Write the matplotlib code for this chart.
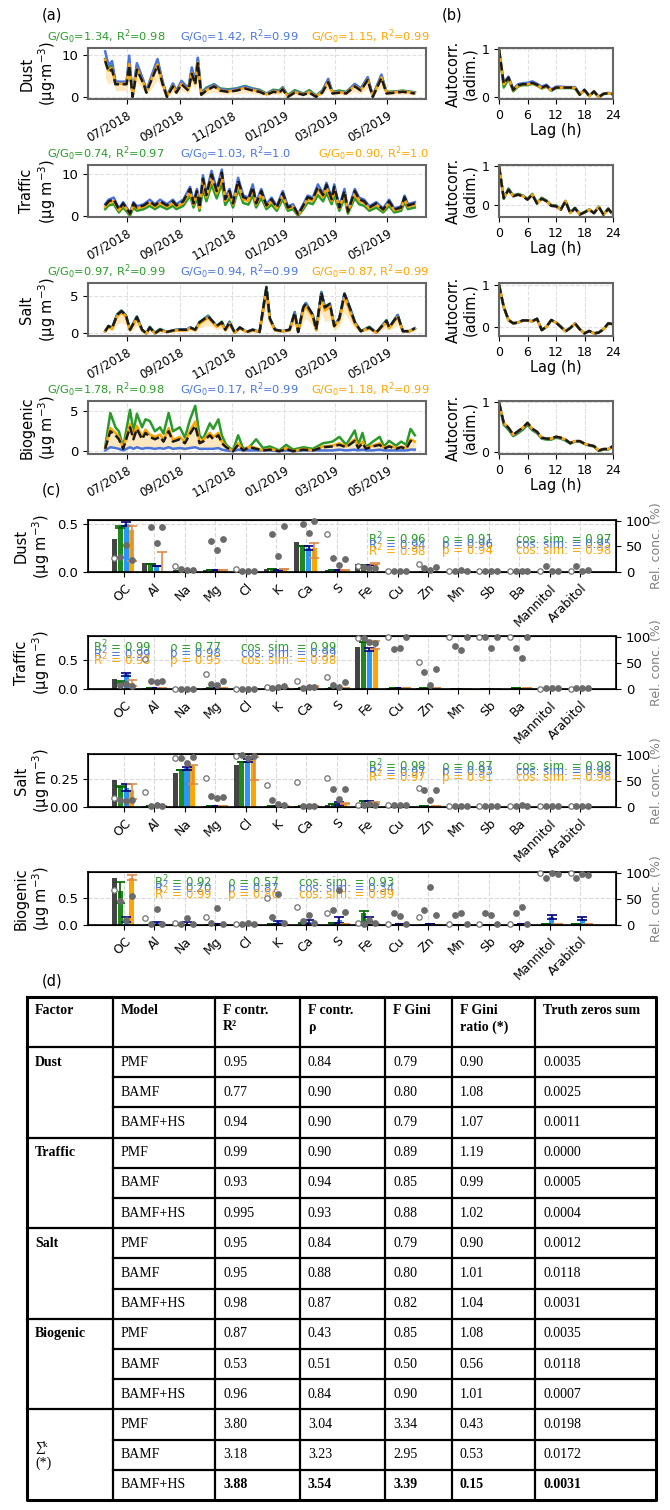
import matplotlib
matplotlib.use('agg')
import matplotlib.pyplot as plt
import matplotlib.dates as mdates
import numpy as np
import pandas as pd

# ---------------- data: (a) time series, days from 2018-06-06 ----------------
dust_days = [0, 4, 8, 12, 17, 25, 28, 32, 37, 45, 48, 54, 61, 67, 72, 79, 83, 89, 97, 101,
             105, 108, 112, 118, 127, 134, 143, 153, 163, 172, 180, 188, 196, 203, 207, 213, 221, 231, 238, 246,
             253, 260, 265, 273, 281, 291, 298, 306, 312, 322, 328, 338, 347, 354, 361]
dust_true = [8.5, 6.0, 6.5, 3.0, 3.0, 3.0, 7.5, 0.0, 6.5, 3.0, 1.0, 4.0, 7.5, 3.0, 0.0, 2.5, 1.0, 3.0, 1.5, 5.5,
             3.0, 8.0, 0.5, 1.5, 2.5, 1.5, 1.2, 1.5, 2.0, 1.5, 1.2, 0.5, 1.2, 1.0, 1.8, 0.0, 1.0, 0.5, 1.0, 0.0,
             1.0, 3.5, 0.8, 1.0, 0.8, 2.5, 1.5, 4.0, 0.0, 4.5, 0.8, 1.0, 1.2, 1.0, 0.8]
dust_pmf = [9.0, 7.0, 7.5, 3.5, 3.5, 3.5, 8.5, 0.5, 7.5, 3.5, 1.5, 4.5, 8.5, 3.5, 0.3, 3.0, 1.5, 3.5, 2.0, 6.5,
            3.5, 9.0, 1.0, 2.2, 3.0, 2.0, 1.8, 2.0, 2.6, 2.0, 1.7, 0.8, 1.7, 1.5, 2.3, 0.4, 1.6, 0.8, 1.6, 0.3,
            1.5, 4.0, 1.2, 1.5, 1.2, 3.0, 2.0, 4.5, 0.3, 5.0, 1.2, 1.3, 1.5, 1.3, 1.1]
dust_bamf = [10.8, 7.5, 8.5, 3.7, 3.6, 3.6, 9.8, 0.3, 8.0, 3.7, 1.4, 5.0, 9.0, 3.6, 0.2, 3.2, 1.4, 3.8, 2.0, 7.0,
             3.8, 9.3, 0.9, 2.0, 3.0, 1.9, 1.6, 1.9, 2.5, 1.9, 1.5, 0.7, 1.5, 1.3, 2.1, 0.2, 1.3, 0.7, 1.3, 0.2,
             1.3, 4.3, 1.0, 1.3, 1.0, 3.1, 1.9, 4.7, 0.2, 5.3, 1.0, 1.2, 1.4, 1.2, 1.0]
dust_hs = [8.8, 6.2, 6.8, 3.1, 3.1, 3.1, 7.8, 0.1, 6.7, 3.1, 1.1, 4.2, 7.7, 3.1, 0.1, 2.6, 1.1, 3.1, 1.6, 5.7,
           3.1, 8.2, 0.6, 1.6, 2.6, 1.6, 1.3, 1.6, 2.1, 1.6, 1.3, 0.6, 1.3, 1.1, 1.9, 0.1, 1.1, 0.6, 1.1, 0.1,
           1.1, 3.6, 0.9, 1.1, 0.9, 2.6, 1.6, 4.1, 0.1, 4.6, 0.9, 1.1, 1.3, 1.1, 0.9]
dust_hs_lo = [4.5, 3.0, 3.5, 1.5, 1.5, 1.5, 4.0, 0.0, 3.5, 1.5, 0.5, 2.0, 4.0, 1.5, 0.0, 1.2, 0.5, 1.5, 0.7, 3.0,
              1.5, 4.5, 0.2, 0.7, 1.2, 0.7, 0.6, 0.7, 1.0, 0.7, 0.6, 0.2, 0.6, 0.5, 0.9, 0.0, 0.5, 0.2, 0.5, 0.0,
              0.5, 1.8, 0.4, 0.5, 0.4, 1.2, 0.7, 2.0, 0.0, 2.3, 0.4, 0.5, 0.6, 0.5, 0.4]

traffic_days = [0, 4, 10, 16, 21, 29, 33, 37, 45, 52, 58, 64, 72, 79, 83, 91, 99, 103, 107, 110,
                114, 118, 124, 130, 136, 140, 145, 149, 155, 161, 167, 172, 176, 182, 188, 194, 200, 207, 213, 219,
                225, 231, 236, 242, 248, 254, 258, 264, 267, 273, 279, 283, 291, 296, 302, 308, 316, 324, 331, 337,
                345, 349, 353, 361]
traffic_true = [2.5, 3.5, 4.0, 1.5, 3.0, 0.5, 3.0, 2.0, 2.5, 3.5, 2.5, 3.5, 2.5, 3.5, 2.5, 3.5, 6.5, 3.0, 6.0, 2.0,
                9.0, 5.0, 10.0, 6.0, 10.5, 4.0, 6.0, 3.0, 8.5, 4.5, 4.0, 7.0, 3.0, 6.0, 2.5, 4.0, 2.0, 5.5, 2.0, 2.5,
                0.3, 2.5, 4.5, 4.0, 7.0, 5.0, 7.5, 4.0, 7.0, 2.0, 6.0, 1.0, 6.0, 4.0, 3.5, 2.0, 3.0, 1.5, 3.5, 1.5,
                2.0, 4.5, 2.5, 3.0]
traffic_pmf = [1.6, 2.5, 2.8, 0.8, 2.0, 0.0, 2.0, 1.2, 1.6, 2.4, 1.6, 2.4, 1.6, 2.4, 1.6, 2.4, 4.8, 2.0, 4.3, 1.2,
               6.5, 3.5, 7.5, 4.2, 7.8, 2.6, 4.3, 2.0, 6.3, 3.1, 2.7, 5.0, 2.0, 4.3, 1.6, 2.7, 1.2, 4.0, 1.2, 1.6,
               0.0, 1.6, 3.2, 2.8, 5.0, 3.5, 5.5, 2.8, 5.0, 1.2, 4.3, 0.5, 4.3, 2.8, 2.4, 1.2, 2.0, 0.8, 2.4, 0.8,
               1.2, 3.2, 1.6, 2.0]
traffic_bamf = [2.8, 3.9, 4.4, 1.8, 3.3, 0.7, 3.3, 2.3, 2.8, 3.9, 2.8, 3.9, 2.8, 3.9, 2.8, 3.9, 7.0, 3.3, 6.5, 2.3,
                9.8, 5.4, 10.9, 6.5, 11.2, 4.4, 6.5, 3.3, 9.2, 4.9, 4.4, 7.6, 3.3, 6.5, 2.8, 4.4, 2.3, 6.0, 2.3, 2.8,
                0.5, 2.8, 4.9, 4.4, 7.6, 5.4, 8.0, 4.4, 7.6, 2.3, 6.5, 1.2, 6.5, 4.4, 3.9, 2.3, 3.3, 1.8, 3.9, 1.8,
                2.3, 4.9, 2.8, 3.3]
traffic_hs = [2.2, 3.1, 3.6, 1.3, 2.7, 0.4, 2.7, 1.8, 2.2, 3.1, 2.2, 3.1, 2.2, 3.1, 2.2, 3.1, 5.8, 2.7, 5.4, 1.8,
              8.1, 4.5, 9.0, 5.4, 9.4, 3.6, 5.4, 2.7, 7.6, 4.0, 3.6, 6.3, 2.7, 5.4, 2.2, 3.6, 1.8, 4.9, 1.8, 2.2,
              0.2, 2.2, 4.0, 3.6, 6.3, 4.5, 6.7, 3.6, 6.3, 1.8, 5.4, 0.9, 5.4, 3.6, 3.1, 1.8, 2.7, 1.3, 3.1, 1.3,
              1.8, 4.0, 2.2, 2.7]
traffic_hs_lo = [1.9, 2.6, 3.1, 1.1, 2.3, 0.3, 2.3, 1.5, 1.9, 2.6, 1.9, 2.6, 1.9, 2.6, 1.9, 2.6, 4.9, 2.3, 4.6, 1.5,
                 6.9, 3.8, 7.7, 4.6, 8.0, 3.1, 4.6, 2.3, 6.5, 3.4, 3.1, 5.4, 2.3, 4.6, 1.9, 3.1, 1.5, 4.2, 1.5, 1.9,
                 0.2, 1.9, 3.4, 3.1, 5.4, 3.8, 5.7, 3.1, 5.4, 1.5, 4.6, 0.8, 4.6, 3.1, 2.6, 1.5, 2.3, 1.1, 2.6, 1.1,
                 1.5, 3.4, 1.9, 2.3]

salt_days = [0, 4, 8, 14, 19, 24, 29, 37, 43, 48, 52, 58, 64, 72, 83, 95, 99, 105, 110, 120,
             130, 136, 140, 145, 151, 157, 165, 172, 180, 188, 192, 198, 207, 215, 221, 225, 231, 234, 242, 246,
             252, 256, 262, 267, 273, 279, 285, 291, 298, 308, 316, 328, 331, 341, 347, 355, 361]
salt_true = [0.3, 1.0, 0.7, 2.5, 3.0, 2.5, 0.5, 2.2, 0.5, 0.0, 0.8, 0.0, 0.5, 0.2, 0.5, 0.5, 0.8, 0.5, 1.5, 2.3,
             1.0, 1.5, 0.5, 1.5, 0.1, 0.8, 0.2, 0.5, 0.2, 6.2, 2.0, 0.5, 0.3, 0.5, 2.8, 0.2, 3.5, 4.0, 2.5, 0.5,
             5.5, 3.5, 4.0, 1.0, 2.0, 5.3, 3.5, 1.5, 0.3, 0.8, 0.1, 1.7, 0.8, 2.4, 0.3, 0.3, 0.7]
salt_pmf = [0.3, 1.0, 0.7, 2.6, 3.1, 2.5, 0.5, 2.3, 0.5, 0.0, 0.9, 0.1, 0.6, 0.2, 0.5, 0.5, 0.8, 0.5, 1.5, 2.4,
            1.0, 1.6, 0.5, 1.6, 0.1, 0.8, 0.2, 0.5, 0.2, 6.3, 2.0, 0.5, 0.3, 0.5, 2.9, 0.2, 3.6, 4.1, 2.5, 0.5,
            5.6, 3.6, 4.0, 1.0, 2.0, 5.4, 3.6, 1.6, 0.3, 0.9, 0.1, 1.8, 0.8, 2.5, 0.3, 0.3, 0.7]
salt_bamf = [0.3, 1.0, 0.7, 2.5, 3.0, 2.4, 0.5, 2.2, 0.5, 0.0, 0.8, 0.0, 0.5, 0.2, 0.5, 0.5, 0.8, 0.5, 1.5, 2.3,
             1.0, 1.5, 0.5, 1.5, 0.1, 0.8, 0.2, 0.5, 0.2, 6.1, 2.0, 0.5, 0.3, 0.5, 2.8, 0.2, 3.5, 4.1, 2.5, 0.5,
             5.5, 3.6, 3.9, 1.0, 2.1, 5.4, 3.5, 1.5, 0.3, 0.8, 0.1, 1.7, 0.8, 2.5, 0.3, 0.3, 0.7]
salt_hs = [0.3, 0.9, 0.6, 2.3, 2.8, 2.3, 0.4, 2.0, 0.4, 0.0, 0.7, 0.0, 0.4, 0.2, 0.4, 0.4, 0.7, 0.4, 1.3, 2.1,
           0.9, 1.3, 0.4, 1.3, 0.1, 0.7, 0.2, 0.4, 0.2, 5.8, 1.8, 0.4, 0.3, 0.4, 2.5, 0.2, 3.1, 3.6, 2.2, 0.4,
           5.0, 3.1, 3.6, 0.9, 1.8, 5.0, 3.1, 1.3, 0.3, 0.7, 0.1, 1.5, 0.7, 2.2, 0.3, 0.3, 0.6]
salt_hs_lo = [0.1, 0.5, 0.3, 1.2, 1.5, 1.2, 0.2, 1.0, 0.2, 0.0, 0.4, 0.0, 0.2, 0.1, 0.2, 0.2, 0.4, 0.2, 0.7, 1.1,
              0.5, 0.7, 0.2, 0.7, 0.0, 0.4, 0.1, 0.2, 0.1, 3.5, 0.9, 0.2, 0.1, 0.2, 1.3, 0.1, 1.6, 2.0, 1.1, 0.2,
              2.8, 1.6, 1.8, 0.4, 0.9, 2.8, 1.6, 0.7, 0.1, 0.4, 0.0, 0.8, 0.4, 1.1, 0.1, 0.1, 0.3]

bio_days = [0, 6, 12, 16, 21, 29, 33, 37, 43, 47, 52, 58, 64, 68, 74, 79, 87, 93, 99, 105,
            110, 114, 122, 126, 132, 136, 141, 149, 155, 161, 168, 176, 184, 192, 203, 211, 219, 231, 242, 254,
            265, 273, 281, 291, 295, 300, 304, 312, 320, 325, 331, 339, 345, 351, 356, 361]
bio_true = [0.3, 2.5, 2.0, 1.5, 0.3, 3.0, 1.5, 2.8, 1.5, 2.3, 1.8, 1.5, 1.8, 1.2, 2.5, 1.2, 1.5, 1.0, 2.2, 3.2,
            1.0, 1.2, 2.0, 1.5, 2.0, 1.0, 0.5, 0.0, 0.8, 0.1, 0.5, 0.3, 0.1, 0.2, 0.0, 0.3, 0.0, 0.2, 0.1, 0.5,
            0.6, 0.8, 0.5, 1.3, 0.4, 1.0, 0.3, 0.6, 0.8, 0.3, 0.6, 0.3, 0.5, 0.3, 1.3, 1.0]
bio_pmf = [0.5, 4.8, 3.0, 2.5, 0.5, 5.2, 2.5, 4.7, 3.0, 4.0, 3.8, 2.5, 3.0, 2.2, 4.8, 2.5, 3.0, 1.7, 4.0, 5.7,
           2.0, 1.5, 3.5, 2.8, 4.0, 2.0, 0.8, 0.1, 2.0, 0.3, 0.5, 1.5, 0.4, 0.6, 0.1, 0.8, 0.2, 0.5, 0.3, 1.0,
           1.2, 1.8, 0.8, 2.6, 0.8, 2.3, 0.5, 1.2, 1.8, 0.6, 1.3, 0.7, 1.2, 0.8, 2.8, 2.0]
bio_bamf = [0.1, 0.5, 0.4, 0.3, 0.1, 0.5, 0.3, 0.5, 0.3, 0.4, 0.4, 0.3, 0.4, 0.3, 0.5, 0.3, 0.4, 0.3, 0.4, 0.5,
            0.3, 0.3, 0.3, 0.3, 0.4, 0.2, 0.1, 0.0, 0.2, 0.1, 0.1, 0.1, 0.1, 0.1, 0.0, 0.1, 0.0, 0.1, 0.1, 0.1,
            0.1, 0.2, 0.1, 0.2, 0.1, 0.2, 0.1, 0.1, 0.2, 0.1, 0.1, 0.1, 0.1, 0.1, 0.2, 0.2]
bio_hs = [0.4, 2.9, 2.3, 1.8, 0.4, 3.4, 1.8, 3.2, 1.8, 2.7, 2.1, 1.8, 2.1, 1.4, 2.9, 1.4, 1.8, 1.2, 2.6, 3.7,
          1.2, 1.4, 2.3, 1.8, 2.3, 1.2, 0.6, 0.0, 1.0, 0.1, 0.6, 0.4, 0.1, 0.3, 0.0, 0.4, 0.0, 0.3, 0.1, 0.6,
          0.7, 1.0, 0.6, 1.5, 0.5, 1.2, 0.4, 0.7, 1.0, 0.4, 0.7, 0.4, 0.6, 0.4, 1.5, 1.2]
bio_hs_lo = [0.0, 0.4, 0.3, 0.2, 0.0, 0.5, 0.2, 0.4, 0.2, 0.3, 0.3, 0.2, 0.3, 0.2, 0.4, 0.2, 0.2, 0.1, 0.3, 0.5,
             0.1, 0.2, 0.3, 0.2, 0.3, 0.1, 0.1, 0.0, 0.1, 0.0, 0.1, 0.0, 0.0, 0.0, 0.0, 0.0, 0.0, 0.0, 0.0, 0.1,
             0.1, 0.1, 0.1, 0.2, 0.1, 0.1, 0.0, 0.1, 0.1, 0.0, 0.1, 0.0, 0.1, 0.0, 0.2, 0.1]

gg0_pmf = ['1.34', '0.74', '0.97', '1.78']
gg0_bamf = ['1.42', '1.03', '0.94', '0.17']
gg0_hs = ['1.15', '0.90', '0.87', '1.18']
r2_pmf = ['0.98', '0.97', '0.99', '0.98']
r2_bamf = ['0.99', '1.0', '0.99', '0.99']
r2_hs = ['0.99', '1.0', '0.99', '0.99']

# ---------------- data: (b) autocorrelation, lag 0..24 h ----------------
lags = list(range(25))
dust_acf_true = [1.0, 0.28, 0.41, 0.15, 0.25, 0.27, 0.27, 0.30, 0.26, 0.20, 0.24, 0.14, 0.20, 0.20, 0.20, 0.20,
                 0.20, 0.05, 0.15, 0.02, 0.12, 0.00, 0.07, 0.08, 0.06]
dust_acf_pmf = [1.0, 0.20, 0.38, 0.12, 0.22, 0.25, 0.25, 0.28, 0.24, 0.18, 0.22, 0.13, 0.19, 0.19, 0.19, 0.19,
                0.18, 0.05, 0.14, 0.02, 0.11, 0.00, 0.06, 0.08, 0.06]
dust_acf_bamf = [1.0, 0.30, 0.43, 0.17, 0.27, 0.29, 0.30, 0.33, 0.28, 0.22, 0.26, 0.16, 0.22, 0.22, 0.21, 0.21,
                 0.21, 0.06, 0.16, 0.03, 0.12, 0.01, 0.07, 0.09, 0.07]
dust_acf_hs = [1.0, 0.27, 0.40, 0.14, 0.24, 0.26, 0.27, 0.29, 0.25, 0.19, 0.23, 0.14, 0.20, 0.20, 0.20, 0.20,
               0.19, 0.05, 0.15, 0.02, 0.12, 0.00, 0.07, 0.08, 0.06]
traffic_acf_true = [1.0, 0.17, 0.39, 0.22, 0.26, 0.22, 0.13, 0.26, 0.03, 0.16, 0.09, -0.03, -0.04, -0.13, 0.09,
                    -0.22, -0.09, -0.26, -0.20, -0.13, -0.22, -0.06, -0.26, -0.11, -0.26]
traffic_acf_pmf = [1.0, 0.15, 0.42, 0.24, 0.28, 0.24, 0.15, 0.28, 0.05, 0.18, 0.11, -0.01, -0.02, -0.12, 0.10,
                   -0.20, -0.08, -0.24, -0.19, -0.12, -0.21, -0.05, -0.25, -0.10, -0.25]
traffic_acf_bamf = [1.0, 0.17, 0.40, 0.22, 0.26, 0.23, 0.14, 0.26, 0.04, 0.16, 0.09, -0.03, -0.04, -0.13, 0.09,
                    -0.21, -0.09, -0.25, -0.20, -0.13, -0.22, -0.06, -0.26, -0.11, -0.25]
traffic_acf_hs = [1.0, 0.17, 0.39, 0.22, 0.26, 0.22, 0.13, 0.26, 0.03, 0.16, 0.09, -0.03, -0.04, -0.13, 0.09,
                  -0.22, -0.09, -0.26, -0.20, -0.13, -0.22, -0.06, -0.26, -0.11, -0.26]
salt_acf_true = [1.0, 0.47, 0.16, 0.08, 0.10, 0.15, 0.15, 0.13, 0.19, -0.08, 0.00, 0.16, 0.10, 0.00, -0.11,
                 -0.03, 0.08, -0.06, -0.16, -0.10, -0.16, -0.14, -0.06, 0.08, 0.06]
salt_acf_pmf = [1.0, 0.46, 0.16, 0.09, 0.10, 0.15, 0.15, 0.13, 0.19, -0.07, 0.00, 0.16, 0.10, 0.00, -0.10,
                -0.03, 0.08, -0.06, -0.15, -0.10, -0.15, -0.13, -0.06, 0.08, 0.06]
salt_acf_bamf = [1.0, 0.47, 0.16, 0.08, 0.10, 0.15, 0.15, 0.13, 0.19, -0.08, 0.00, 0.16, 0.10, 0.00, -0.11,
                 -0.03, 0.08, -0.06, -0.16, -0.10, -0.16, -0.14, -0.06, 0.08, 0.06]
salt_acf_hs = [1.0, 0.47, 0.15, 0.08, 0.10, 0.14, 0.15, 0.13, 0.18, -0.08, 0.00, 0.15, 0.10, 0.00, -0.11,
               -0.03, 0.07, -0.06, -0.16, -0.10, -0.16, -0.14, -0.06, 0.07, 0.06]
bio_acf_true = [1.0, 0.59, 0.49, 0.35, 0.42, 0.49, 0.59, 0.47, 0.41, 0.29, 0.27, 0.27, 0.31, 0.29, 0.25, 0.18,
                0.22, 0.22, 0.17, 0.14, 0.12, 0.03, 0.06, 0.06, 0.12]
bio_acf_pmf = [1.0, 0.55, 0.45, 0.32, 0.38, 0.45, 0.55, 0.44, 0.38, 0.27, 0.25, 0.25, 0.29, 0.27, 0.23, 0.17,
               0.21, 0.21, 0.16, 0.13, 0.11, 0.02, 0.05, 0.05, 0.11]
bio_acf_bamf = [1.0, 0.58, 0.48, 0.34, 0.41, 0.48, 0.58, 0.46, 0.40, 0.28, 0.27, 0.27, 0.30, 0.28, 0.24, 0.18,
                0.22, 0.22, 0.17, 0.14, 0.12, 0.03, 0.06, 0.06, 0.12]
bio_acf_hs = [1.0, 0.59, 0.49, 0.35, 0.42, 0.49, 0.59, 0.47, 0.41, 0.29, 0.27, 0.27, 0.31, 0.29, 0.25, 0.18,
              0.22, 0.22, 0.17, 0.14, 0.12, 0.03, 0.06, 0.06, 0.12]

# ---------------- data: (c) factor profiles ----------------
species = ['OC', 'Al', 'Na', 'Mg', 'Cl', 'K', 'Ca', 'S', 'Fe', 'Cu', 'Zn', 'Mn', 'Sb', 'Ba', 'Mannitol', 'Arabitol']
nan = np.nan

dust_prof_true = [0.35, 0.09, 0.02, 0.02, 0.0, 0.035, 0.32, 0.02, 0.08, 0.0, 0.0, 0.0, 0.0, 0.0, 0.0, 0.0]
dust_prof_pmf = [0.47, 0.08, 0.01, 0.02, 0.0, 0.035, 0.27, 0.02, 0.07, 0.0, 0.0, 0.0, 0.0, 0.0, 0.0, 0.0]
dust_prof_bamf = [0.50, 0.065, 0.005, 0.02, 0.0, 0.025, 0.25, 0.02, 0.075, 0.0, 0.0, 0.0, 0.0, 0.0, 0.0, 0.0]
dust_prof_hs = [0.44, 0.01, 0.005, 0.02, 0.0, 0.035, 0.25, 0.02, 0.08, 0.0, 0.0, 0.0, 0.0, 0.0, 0.0, 0.005]
dust_err_pmf = [[0.01, 0, 0, 0, 0, 0, 0, 0, 0, 0, 0, 0, 0, 0, 0, 0], [0.01, 0, 0, 0, 0, 0, 0, 0, 0, 0, 0, 0, 0, 0, 0, 0]]
dust_err_bamf = [[0.02, 0, 0, 0, 0, 0, 0.02, 0, 0, 0, 0, 0, 0, 0, 0, 0], [0.02, 0, 0, 0, 0, 0, 0.02, 0, 0, 0, 0, 0, 0, 0, 0, 0]]
dust_err_hs = [[0.32, 0.01, 0, 0, 0, 0, 0.105, 0, 0, 0, 0, 0, 0, 0, 0, 0], [0.04, 0.20, 0, 0, 0, 0, 0.05, 0, 0.01, 0, 0, 0, 0, 0, 0, 0]]
dust_rel_true = [28, nan, 11, nan, 6, nan, nan, 73, 11, 1, 15, 1, 1, 1, 1, 1]
dust_rel_pmf = [30, 87, 6, 61, 1, 73, 94, 28, 10, 1, 8, 1, 1, 1, 11, 11]
dust_rel_bamf = [53, 56, 4, 42, 1, 31, 75, 13, 8, 1, 3, 3, 1, 1, 1, 1]
dust_rel_hs = [24, 87, 3, 65, 1, 90, 100, 26, 8, 1, 10, 1, 1, 1, 1, 3]

traffic_prof_true = [0.18, 0.02, 0.0, 0.01, 0.0, 0.01, 0.02, 0.01, 0.72, 0.02, 0.01, 0.0, 0.0, 0.0, 0.0, 0.0]
traffic_prof_pmf = [0.12, 0.02, 0.0, 0.01, 0.0, 0.01, 0.02, 0.01, 0.80, 0.02, 0.01, 0.0, 0.0, 0.01, 0.0, 0.0]
traffic_prof_bamf = [0.25, 0.01, 0.0, 0.01, 0.0, 0.01, 0.02, 0.01, 0.65, 0.02, 0.0, 0.0, 0.0, 0.0, 0.0, 0.0]
traffic_prof_hs = [0.10, 0.01, 0.0, 0.01, 0.0, 0.01, 0.03, 0.01, 0.70, 0.02, 0.01, 0.0, 0.0, 0.01, 0.0, 0.0]
traffic_err_pmf = [[0.01, 0, 0, 0, 0, 0, 0, 0, 0, 0, 0, 0, 0, 0, 0, 0], [0.01, 0, 0, 0, 0, 0, 0, 0, 0, 0, 0, 0, 0, 0, 0, 0]]
traffic_err_bamf = [[0.03, 0, 0, 0, 0, 0, 0, 0, 0, 0, 0, 0, 0, 0, 0, 0], [0.03, 0, 0, 0, 0, 0, 0, 0, 0.05, 0, 0, 0, 0, 0, 0, 0]]
traffic_err_hs = [[0.05, 0, 0, 0, 0, 0, 0, 0, 0.02, 0, 0, 0, 0, 0, 0, 0], [0.05, 0, 0, 0, 0, 0, 0.02, 0, 0.12, 0, 0, 0, 0, 0, 0, 0]]
traffic_rel_true = [nan, 58, 0, 28, 0, 4, 15, 22, 98, 100, 51, 100, 100, 100, 0, 0]
traffic_rel_pmf = [8, 16, 0, 10, 0, 2, 2, 8, 97, 76, 32, 82, 100, 79, 1, 1]
traffic_rel_bamf = [10, 13, 0, 8, 0, 4, 4, 4, 90, 78, 8, 74, 79, 60, 1, 1]
traffic_rel_hs = [5, 16, 0, 15, 0, 6, 4, 13, 88, 100, 38, 100, 100, 100, 1, 1]

salt_prof_true = [0.24, 0.005, 0.30, 0.005, 0.37, 0.005, 0.01, 0.02, 0.01, 0.0, 0.0, 0.0, 0.0, 0.0, 0.0, 0.0]
salt_prof_pmf = [0.18, 0.005, 0.33, 0.005, 0.40, 0.005, 0.005, 0.03, 0.05, 0.0, 0.005, 0.0, 0.0, 0.0, 0.0, 0.0]
salt_prof_bamf = [0.17, 0.005, 0.34, 0.005, 0.41, 0.005, 0.005, 0.03, 0.04, 0.0, 0.0, 0.0, 0.0, 0.0, 0.0, 0.0]
salt_prof_hs = [0.15, 0.005, 0.36, 0.005, 0.42, 0.005, 0.005, 0.03, 0.03, 0.0, 0.005, 0.0, 0.0, 0.0, 0.0, 0.0]
salt_err_pmf = [[0.005, 0, 0, 0, 0, 0, 0, 0, 0, 0, 0, 0, 0, 0, 0, 0], [0.005, 0, 0, 0, 0, 0, 0, 0, 0, 0, 0, 0, 0, 0, 0, 0]]
salt_err_bamf = [[0.03, 0, 0.01, 0, 0.01, 0, 0, 0.01, 0.01, 0, 0, 0, 0, 0, 0, 0], [0.03, 0, 0.01, 0, 0.01, 0, 0, 0.01, 0.01, 0, 0, 0, 0, 0, 0, 0]]
salt_err_hs = [[0.08, 0, 0.155, 0, 0.18, 0, 0, 0, 0, 0, 0, 0, 0, 0, 0, 0], [0.05, 0, 0.01, 0, 0.02, 0, 0, 0.005, 0.01, 0, 0, 0, 0, 0, 0, 0]]
salt_rel_true = [17, 28, 94, 55, 97, 41, 48, 55, 3, 3, 36, 1, 1, 1, 1, 1]
salt_rel_pmf = [14, 2, 94, 21, 99, 13, 1, 34, 4, 3, 33, 1, 1, 2, 1, 1]
salt_rel_bamf = [12, 3, 84, 17, 94, 6, 1, 16, 6, 4, 14, 1, 1, 4, 1, 1]
salt_rel_hs = [14, 2, 96, 19, 97, 3, 1, 34, 3, 3, 33, 1, 1, 1, 1, 1]

bio_prof_true = [0.86, 0.0, 0.0, 0.0, 0.0, 0.0, 0.0, 0.0, 0.0, 0.0, 0.0, 0.0, 0.0, 0.0, 0.0, 0.0]
bio_prof_pmf = [0.62, 0.0, 0.0, 0.0, 0.0, 0.01, 0.04, 0.03, 0.22, 0.0, 0.0, 0.0, 0.0, 0.0, 0.01, 0.01]
bio_prof_bamf = [0.10, 0.03, 0.02, 0.01, 0.02, 0.05, 0.06, 0.09, 0.10, 0.01, 0.02, 0.0, 0.0, 0.01, 0.15, 0.12]
bio_prof_hs = [0.86, 0.0, 0.0, 0.0, 0.0, 0.0, 0.0, 0.02, 0.02, 0.0, 0.0, 0.0, 0.0, 0.0, 0.01, 0.01]
bio_err_pmf = [[0.22, 0, 0, 0, 0, 0, 0, 0, 0.22, 0, 0, 0, 0, 0, 0, 0], [0.17, 0, 0, 0, 0, 0, 0, 0, 0.03, 0, 0, 0, 0, 0, 0, 0]]
bio_err_bamf = [[0.04, 0.03, 0.03, 0, 0, 0.03, 0.04, 0.05, 0.05, 0, 0, 0, 0, 0, 0.04, 0.03], [0.04, 0.03, 0.03, 0, 0, 0.03, 0.04, 0.05, 0.05, 0, 0, 0, 0, 0, 0.04, 0.03]]
bio_err_hs = [[0.02, 0, 0, 0, 0, 0, 0, 0, 0, 0, 0, 0, 0, 0, 0, 0], [0.07, 0, 0, 0, 0, 0, 0, 0, 0, 0, 0, 0, 0, 0, 0, 0]]
bio_rel_true = [67, 13, 4, 15, 1, 52, 35, 22, 3, 1, 15, 1, 1, 1, 99, 99]
bio_rel_pmf = [45, 1, 1, 4, 1, 16, 8, 29, 2, 23, 28, 20, 23, 22, 90, 89]
bio_rel_bamf = [10, 31, 13, 32, 4, 60, 20, 67, 10, 18, 72, 23, 20, 35, 99, 98]
bio_rel_hs = [56, 1, 1, 1, 1, 3, 3, 25, 3, 1, 20, 1, 1, 1, 97, 96]

stat_r2 = [['0.96', '0.94', '0.98'], ['0.99', '0.99', '0.98'], ['0.98', '0.97', '0.97'], ['0.92', '0.20', '0.99']]
stat_rho = [['0.91', '0.96', '0.94'], ['0.77', '0.98', '0.95'], ['0.87', '0.93', '0.91'], ['0.57', '0.87', '0.86']]
stat_cos = [['0.97', '0.95', '0.98'], ['0.99', '0.99', '0.98'], ['0.98', '0.98', '0.98'], ['0.93', '0.34', '0.99']]

# ---------------- data: (d) table ----------------
tab_factors = ['Dust', 'Traffic', 'Salt', 'Biogenic']
tab_models = ['PMF', 'BAMF', 'BAMF+HS']
tab_r2 = ['0.95', '0.77', '0.94', '0.99', '0.93', '0.995', '0.95', '0.95', '0.98', '0.87', '0.53', '0.96', '3.80', '3.18', '3.88']
tab_rho = ['0.84', '0.90', '0.90', '0.90', '0.94', '0.93', '0.84', '0.88', '0.87', '0.43', '0.51', '0.84', '3.04', '3.23', '3.54']
tab_gini = ['0.79', '0.80', '0.79', '0.89', '0.85', '0.88', '0.79', '0.80', '0.82', '0.85', '0.50', '0.90', '3.34', '2.95', '3.39']
tab_ratio = ['0.90', '1.08', '1.07', '1.19', '0.99', '1.02', '0.90', '1.01', '1.04', '1.08', '0.56', '1.01', '0.43', '0.53', '0.15']
tab_zeros = ['0.0035', '0.0025', '0.0011', '0.0000', '0.0005', '0.0004', '0.0012', '0.0118', '0.0031', '0.0035', '0.0118',
             '0.0007', '0.0198', '0.0172', '0.0031']

C_G = '#2a9a2a'
C_B = '#4a74dc'
C_O = '#ffa500'

W, H = 670, 1510
fig = plt.figure(figsize=(W / 100, H / 100), dpi=100)


def px_axes(x0, y0, x1, y1):
    return fig.add_axes([x0 / W, 1 - y1 / H, (x1 - x0) / W, (y1 - y0) / H])


def frame(ax, color='0.4', lw=1.5):
    for s in ax.spines.values():
        s.set_color(color)
        s.set_linewidth(lw)


start = pd.Timestamp('2018-06-06')


def ts_panel(ax, days, true, g, b, o, lo, ylim, yticks, ylabel, k):
    t = start + pd.to_timedelta(days, unit='D')
    ax.fill_between(t, lo, o, color=C_O, alpha=0.25, lw=0)
    ax.plot(t, g, color=C_G, lw=1.8)
    ax.plot(t, b, color=C_B, lw=1.8)
    ax.plot(t, o, color=C_O, lw=1.8)
    ax.plot(t, true, color='#1a1a1a', lw=1.8, ls=(0, (3.5, 1.5)))
    ax.set_xlim(pd.Timestamp('2018-05-17'), pd.Timestamp('2019-06-15'))
    ax.set_ylim(*ylim)
    ax.set_yticks(yticks)
    ax.xaxis.set_major_locator(mdates.MonthLocator(bymonth=[1, 3, 5, 7, 9, 11]))
    ax.xaxis.set_major_formatter(mdates.DateFormatter('%m/%Y'))
    plt.setp(ax.get_xticklabels(), rotation=30, ha='right', rotation_mode='anchor', fontsize=8.5)
    ax.tick_params(axis='y', labelsize=9.5)
    ax.grid(ls='--', color='0.88', lw=0.8)
    frame(ax)
    ax.set_ylabel(ylabel, fontsize=10.5, linespacing=1.1)
    ax.yaxis.set_label_coords(-0.09, 0.5)
    ax.text(-0.12, 1.04, 'G/G$_0$=%s, R$^2$=%s' % (gg0_pmf[k], r2_pmf[k]), color=C_G, fontsize=8.2,
            transform=ax.transAxes, ha='left', va='bottom')
    ax.text(0.272, 1.04, 'G/G$_0$=%s, R$^2$=%s' % (gg0_bamf[k], r2_bamf[k]), color=C_B, fontsize=8.2,
            transform=ax.transAxes, ha='left', va='bottom')
    ax.text(1.01, 1.04, 'G/G$_0$=%s, R$^2$=%s' % (gg0_hs[k], r2_hs[k]), color=C_O, fontsize=8.2,
            transform=ax.transAxes, ha='right', va='bottom')


def acf_panel(ax, true, g, b, o, ylim):
    ax.plot(lags, g, color=C_G, lw=1.8)
    ax.plot(lags, b, color=C_B, lw=1.8)
    ax.plot(lags, o, color=C_O, lw=1.8)
    ax.plot(lags, true, color='#1a1a1a', lw=1.8, ls=(0, (3.5, 1.5)))
    ax.set_xlim(0, 24)
    ax.set_ylim(*ylim)
    ax.set_xticks([0, 6, 12, 18, 24])
    ax.set_yticks([0, 1])
    ax.tick_params(labelsize=9)
    ax.grid(ls='--', color='0.88', lw=0.8)
    frame(ax)
    ax.set_xlabel('Lag (h)', fontsize=10.5, labelpad=1)
    ax.set_ylabel('Autocorr.\n(adim.)', fontsize=10.5, linespacing=1.1)
    ax.yaxis.set_label_coords(-0.19, 0.5)


offs = [-0.31, -0.12, 0.075, 0.265]
bw = 0.165


def prof_panel(ax, true, pm, ba, hs, e_pm, e_ba, e_hs, rel_t, rel_p, rel_b, rel_h, ylim, yticks, ylab, k, tpos):
    x = np.arange(len(species))
    ax.bar(x + offs[0], true, bw, color='#444444', zorder=2)
    ax.bar(x + offs[1], pm, bw, color='#1e8a1e', zorder=2, yerr=e_pm,
           error_kw=dict(ecolor='darkgreen', capsize=3.5, elinewidth=1.2, capthick=1.2))
    ax.bar(x + offs[2], ba, bw, color='#2b95ff', zorder=2, yerr=e_ba,
           error_kw=dict(ecolor='navy', capsize=3.5, elinewidth=1.2, capthick=1.2))
    ax.bar(x + offs[3], hs, bw, color='#ffa500', zorder=2, yerr=e_hs,
           error_kw=dict(ecolor='#dd8a4a', capsize=3.5, elinewidth=1.2, capthick=1.2))
    ax.set_xlim(-1.18, 16.18)
    ax.set_ylim(*ylim)
    ax.set_yticks(yticks)
    ax.set_xticks(x)
    ax.set_xticklabels(species, rotation=45, ha='right', rotation_mode='anchor', fontsize=9)
    ax.tick_params(axis='y', labelsize=9.5)
    ax.grid(ls='--', color='0.85', lw=0.8, zorder=0)
    ax.set_axisbelow(True)
    ax.set_ylabel(ylab, fontsize=10.5, linespacing=1.1)
    ax.yaxis.set_label_coords(-0.068, 0.5)
    ax2 = ax.twinx()
    ax2.scatter(x + offs[0], rel_t, s=15, facecolor='white', edgecolor='0.45', lw=0.9, zorder=3, clip_on=False)
    for off, r in zip(offs[1:], [rel_p, rel_b, rel_h]):
        ax2.scatter(x + off, r, s=15, color='0.42', zorder=3, clip_on=False)
    ax2.set_ylim(0, 101)
    ax2.set_yticks([0, 50, 100])
    ax2.tick_params(labelsize=9.5)
    ax2.set_ylabel('Rel. conc. (%)', color='0.5', fontsize=9)
    ax2.yaxis.set_label_coords(1.064, 0.5)
    for s in ax2.spines.values():
        s.set_linewidth(1.2)
    cols = [C_G, C_B, C_O]
    x0, x1, x2, y0, dy = tpos
    for j in range(3):
        yy = y0 - j * dy
        ax.text(x0, yy, 'R$^2$ = %s' % stat_r2[k][j], color=cols[j], fontsize=8.5, transform=ax.transAxes, va='center')
        ax.text(x1, yy, '\u03c1 = %s' % stat_rho[k][j], color=cols[j], fontsize=8.5, transform=ax.transAxes, va='center')
        ax.text(x2, yy, 'cos. sim. = %s' % stat_cos[k][j], color=cols[j], fontsize=8.5, transform=ax.transAxes, va='center')


# ---- (a) & (b)
rows_y = [(48, 99), (165, 217), (283, 336), (401, 454)]
ts_data = [
    (dust_days, dust_true, dust_pmf, dust_bamf, dust_hs, dust_hs_lo, (-0.5, 11.6), [0, 10], 'Dust\n(\u03bcg\u00b7m$^{-3}$)'),
    (traffic_days, traffic_true, traffic_pmf, traffic_bamf, traffic_hs, traffic_hs_lo, (-0.3, 12.3), [0, 10], 'Traffic\n(\u03bcg m$^{-3}$)'),
    (salt_days, salt_true, salt_pmf, salt_bamf, salt_hs, salt_hs_lo, (-0.35, 6.8), [0, 5], 'Salt\n(\u03bcg m$^{-3}$)'),
    (bio_days, bio_true, bio_pmf, bio_bamf, bio_hs, bio_hs_lo, (-0.35, 6.3), [0, 5], 'Biogenic\n(\u03bcg m$^{-3}$)'),
]
acf_data = [
    (dust_acf_true, dust_acf_pmf, dust_acf_bamf, dust_acf_hs, (-0.04, 1.03)),
    (traffic_acf_true, traffic_acf_pmf, traffic_acf_bamf, traffic_acf_hs, (-0.32, 1.03)),
    (salt_acf_true, salt_acf_pmf, salt_acf_bamf, salt_acf_hs, (-0.22, 1.04)),
    (bio_acf_true, bio_acf_pmf, bio_acf_bamf, bio_acf_hs, (-0.04, 1.03)),
]
for k, (y0, y1) in enumerate(rows_y):
    ax = px_axes(88, y0, 426, y1)
    d = ts_data[k]
    ts_panel(ax, d[0], d[1], d[2], d[3], d[4], d[5], d[6], d[7], d[8], k)
    axb = px_axes(499, y0, 613, y1)
    a = acf_data[k]
    acf_panel(axb, a[0], a[1], a[2], a[3], a[4])

# ---- (c)
prof_rows = [(520, 572), (636, 689), (754, 807), (872, 925)]
prof_data = [
    (dust_prof_true, dust_prof_pmf, dust_prof_bamf, dust_prof_hs, dust_err_pmf, dust_err_bamf, dust_err_hs,
     dust_rel_true, dust_rel_pmf, dust_rel_bamf, dust_rel_hs, (0, 0.546), [0, 0.5], 'Dust\n(\u03bcg m$^{-3}$)',
     (0.53, 0.67, 0.81, 0.63, 0.11)),
    (traffic_prof_true, traffic_prof_pmf, traffic_prof_bamf, traffic_prof_hs, traffic_err_pmf, traffic_err_bamf,
     traffic_err_hs, traffic_rel_true, traffic_rel_pmf, traffic_rel_bamf, traffic_rel_hs, (0, 0.91), [0, 0.5],
     'Traffic\n(\u03bcg m$^{-3}$)', (0.01, 0.155, 0.29, 0.79, 0.125)),
    (salt_prof_true, salt_prof_pmf, salt_prof_bamf, salt_prof_hs, salt_err_pmf, salt_err_bamf, salt_err_hs,
     salt_rel_true, salt_rel_pmf, salt_rel_bamf, salt_rel_hs, (0, 0.468), [0, 0.25], 'Salt\n(\u03bcg m$^{-3}$)',
     (0.53, 0.67, 0.81, 0.77, 0.105)),
    (bio_prof_true, bio_prof_pmf, bio_prof_bamf, bio_prof_hs, bio_err_pmf, bio_err_bamf, bio_err_hs,
     bio_rel_true, bio_rel_pmf, bio_rel_bamf, bio_rel_hs, (0, 0.98), [0, 0.5], 'Biogenic\n(\u03bcg m$^{-3}$)',
     (0.125, 0.265, 0.40, 0.81, 0.115)),
]
for k, (y0, y1) in enumerate(prof_rows):
    ax = px_axes(88, y0, 616, y1)
    prof_panel(ax, *prof_data[k][:14], k, prof_data[k][14])
    if k == 2:
        ax.set_yticklabels(['0.00', '0.25'])
    else:
        ax.set_yticklabels(['0.0', '0.5'])

# ---- panel letters
fig.text(42 / W, 1 - 15 / H, '(a)', fontsize=10.5, va='center')
fig.text(442 / W, 1 - 15 / H, '(b)', fontsize=10.5, va='center')
fig.text(42 / W, 1 - 490 / H, '(c)', fontsize=10.5, va='center')
fig.text(42 / W, 1 - 981 / H, '(d)', fontsize=10.5, va='center')

# ---- (d) table
axt = fig.add_axes([0, 0, 1, 1], facecolor='none')
axt.set_xlim(0, W)
axt.set_ylim(H, 0)
axt.axis('off')
cx = [27, 113, 215, 300, 385, 452, 535, 656]
top, hdr = 997, 1047
rh = (1500 - hdr) / 15.0
serif = ['Liberation Serif', 'DejaVu Serif']
lwi = 1.6
# outer frame and column lines
axt.plot([cx[0], cx[-1], cx[-1], cx[0], cx[0]], [top, top, 1500, 1500, top], color='k', lw=2.2)
for xv in cx[1:-1]:
    axt.plot([xv, xv], [top, 1500], color='k', lw=lwi)
axt.plot([cx[0], cx[-1]], [hdr, hdr], color='k', lw=lwi)
for r in range(1, 15):
    yv = hdr + r * rh
    xs = cx[0] if r % 3 == 0 else cx[1]
    axt.plot([xs, cx[-1]], [yv, yv], color='k', lw=lwi)
headers = ['Factor', 'Model', 'F contr.\nR\u00b2', 'F contr.\n\u03c1', 'F Gini', 'F Gini\nratio (*)', 'Truth zeros sum']
for j, h in enumerate(headers):
    axt.text(cx[j] + 8, top + 7, h, family=serif, fontsize=10, fontweight='bold', va='top', ha='left',
             linespacing=1.35)
for g, name in enumerate(tab_factors):
    axt.text(cx[0] + 8, hdr + 3 * g * rh + rh / 2, name, family=serif, fontsize=10, fontweight='bold',
             va='center', ha='left')
axt.text(cx[0] + 8, hdr + 13 * rh + rh / 2 - 7, '\u2211', family=serif, fontsize=10, va='center', ha='left')
axt.text(cx[0] + 16, hdr + 13 * rh + rh / 2 - 10, 'k', family=serif, fontsize=6.5, va='center', ha='left')
axt.text(cx[0] + 8, hdr + 13 * rh + rh / 2 + 9, '(*)', family=serif, fontsize=10, va='center', ha='left')
cols = [tab_r2, tab_rho, tab_gini, tab_ratio, tab_zeros]
for r in range(15):
    yc = hdr + r * rh + rh / 2
    axt.text(cx[1] + 8, yc, tab_models[r % 3], family=serif, fontsize=10, va='center', ha='left')
    for j, col in enumerate(cols):
        axt.text(cx[2 + j] + 8, yc, col[r], family=serif, fontsize=10, va='center', ha='left',
                 fontweight='bold' if r == 14 else 'normal')

fig.savefig('out.png', dpi=100)
